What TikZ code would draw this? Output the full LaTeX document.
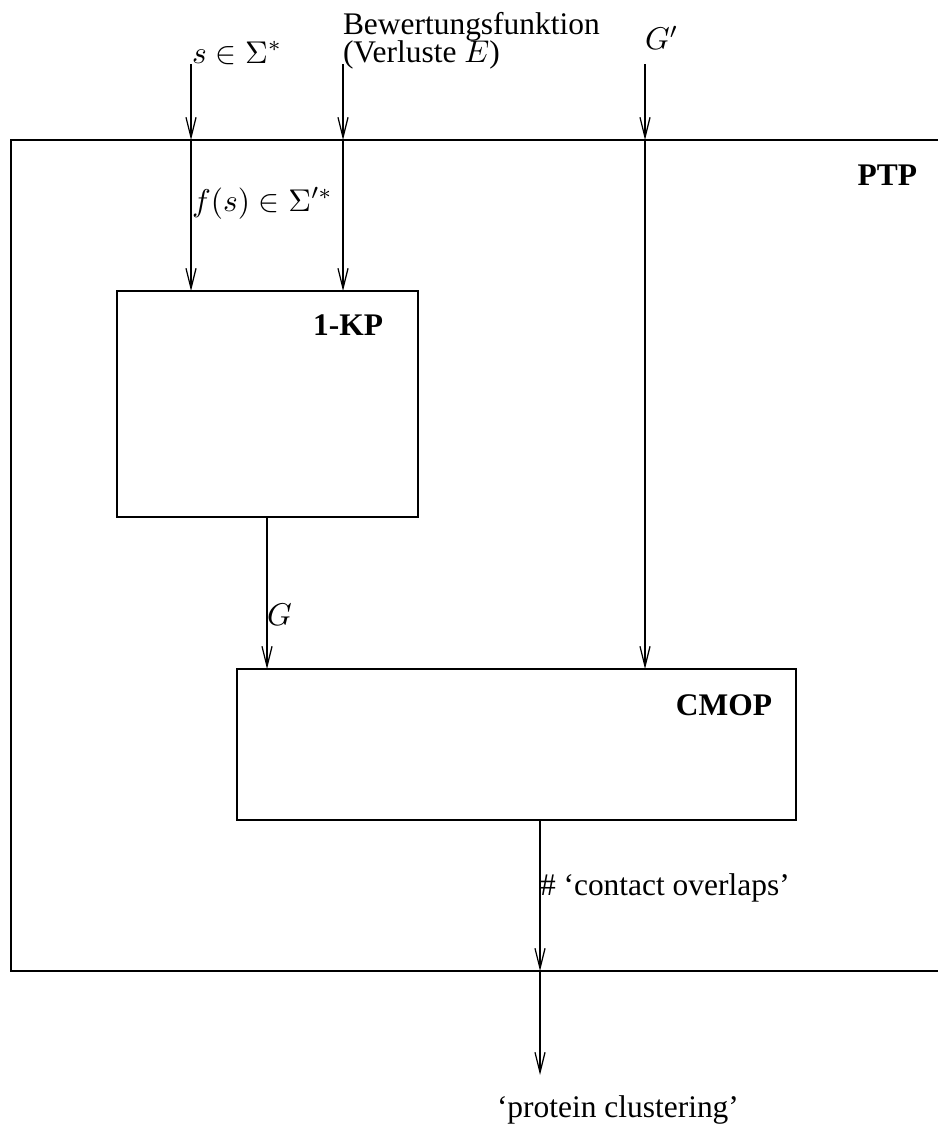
\documentclass[tikz,border=0pt]{standalone}
\usepackage[no-math]{fontspec}
\setmainfont{Liberation Serif}
\usetikzlibrary{arrows.meta,fit}
\begin{document}
\begin{tikzpicture}[x=0.318pt,y=-0.318pt,
  box/.style={draw,line width=0.4pt,inner sep=0pt,outer sep=0pt},
  arr/.style={-{Straight Barb[length=6.4pt,width=3.2pt]},line width=0.4pt},
  lbl/.style={inner sep=0pt,outer sep=0pt,font=\fontsize{10}{12}\selectfont},
  ttl/.style={inner sep=0pt,outer sep=0pt,font=\fontsize{10}{12}\selectfont\bfseries}]
\useasboundingbox (0,0) rectangle (938,1130);
\clip (0,0) rectangle (938,1130);

% boxes
\coordinate (ptpNW) at (11,140);
\coordinate (ptpSE) at (980,971);
\node[box,fit=(ptpNW)(ptpSE)] (ptp) {};
\coordinate (kpNW) at (117,291);
\coordinate (kpSE) at (418,517);
\node[box,fit=(kpNW)(kpSE)] (kp) {};
\coordinate (cmNW) at (237,669);
\coordinate (cmSE) at (796,820);
\node[box,fit=(cmNW)(cmSE)] (cmop) {};

% box titles
\node[ttl,anchor=base east] (ptpT) at (917,185) {PTP};
\node[ttl,anchor=base east] (kpT) at (383,335) {1-KP};
\node[ttl,anchor=base east] (cmT) at (772,715) {CMOP};

% free ends
\coordinate (sTop) at (191,64);
\coordinate (bTop) at (343,64);
\coordinate (gpTop) at (645,64);
\coordinate (gX) at (267,517);
\coordinate (outX) at (540,820);
\coordinate (outEnd) at (540,1075);

% connectors
\draw[arr] (sTop) -- (sTop |- ptp.north);
\draw[arr] (sTop |- ptp.north) -- (sTop |- kp.north);
\draw[arr] (bTop) -- (bTop |- ptp.north);
\draw[arr] (bTop |- ptp.north) -- (bTop |- kp.north);
\draw[arr] (gpTop) -- (gpTop |- ptp.north);
\draw[arr] (gpTop |- ptp.north) -- (gpTop |- cmop.north);
\draw[arr] (gX |- kp.south) -- (gX |- cmop.north);
\draw[arr] (outX |- cmop.south) -- (outX |- ptp.south);
\draw[arr] (outX |- ptp.south) -- (outEnd);

% labels
\node[lbl,anchor=base west] (sL) at (192,63) {$s\in\Sigma^*$};
\node[lbl,anchor=base west,align=left] (bL) at (343,62) {Bewertungsfunktion\\[-3.1pt](Verluste $E$)};
\node[lbl,anchor=base west] (gpL) at (645,50) {$G'$};
\node[lbl,anchor=base west] (fL) at (192,211) {$f(s)\in\Sigma'^*$};
\node[lbl,anchor=base west] (gL) at (267,625) {$G$};
\node[lbl,anchor=base west] (oL) at (540,895) {\# ‘contact overlaps’};
\node[lbl,anchor=base west] (pL) at (497,1117) {‘protein clustering’};
\end{tikzpicture}
\end{document}
